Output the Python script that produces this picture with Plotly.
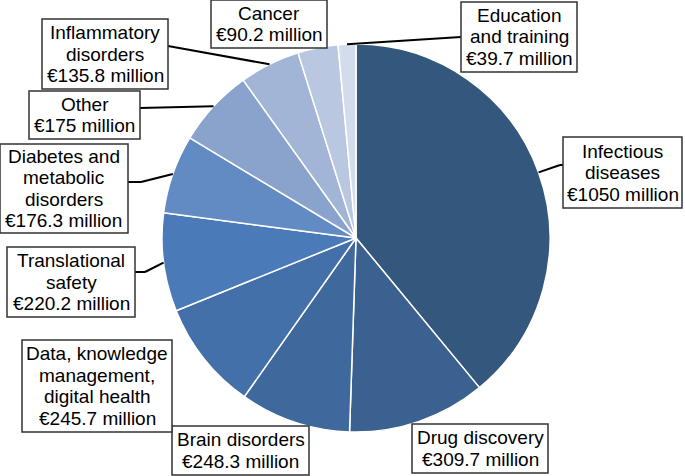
import math
import plotly.graph_objects as go

# ---- data ----
categories = ["Infectious diseases", "Drug discovery", "Brain disorders",
              "Data, knowledge management, digital health", "Translational safety",
              "Diabetes and metabolic disorders", "Other", "Inflammatory disorders",
              "Cancer", "Education and training"]
values = [1050, 309.7, 248.3, 245.7, 220.2, 176.3, 175, 135.8, 90.2, 39.7]
label_texts = ["Infectious<br>diseases<br>€1050 million",
               "Drug discovery<br>€309.7 million",
               "Brain disorders<br>€248.3 million",
               "Data, knowledge<br>management,<br>digital health<br>€245.7 million",
               "Translational<br>safety<br>€220.2 million",
               "Diabetes and<br>metabolic<br>disorders<br>€176.3 million",
               "Other<br>€175 million",
               "Inflammatory<br>disorders<br>€135.8 million",
               "Cancer<br>€90.2 million",
               "Education<br>and training<br>€39.7 million"]
colors = ["#34577E", "#3A6190", "#3F689C", "#4470AA", "#4A7BB8",
          "#628BC3", "#89A3CC", "#A2B5D6", "#B9C7E1", "#D2DCEC"]

W, H = 685, 476
CX, CY, R = 356, 238, 194  # pie geometry in pixels
LINE_H = 21.5
FONT = dict(family="Liberation Sans, Arial", size=19, color="black")

# label boxes (pixels: x0, y0, x1, y1) and connector elbows (None = no connector)
boxes = [(563, 137, 682, 208), (412, 424, 548, 473), (172, 426, 309, 475),
         (22, 340, 172, 432), (7, 247, 135, 317), (0, 144, 128, 233),
         (29, 91, 140, 139), (42, 19, 168, 89), (211, 0, 327, 48),
         (461, 2, 577, 72)]
elbows = [[(560, 165), (563, 165)], None, None, None, [(145, 272), (135, 272)],
          [(141, 182), (128, 182)], [(140, 108)], [(168, 46)], None, [(461, 37)]]


def px(x):
    return x / W


def py(y):
    return 1 - y / H


fig = go.Figure(go.Pie(
    labels=categories, values=values, sort=False, direction="clockwise",
    rotation=0, textinfo="none", hoverinfo="label+value",
    marker=dict(colors=colors, line=dict(color="white", width=1.5)),
    domain=dict(x=[px(CX - R), px(CX + R)], y=[py(CY + R), py(CY - R)]),
    showlegend=False,
))

total = sum(values)
cum = 0
shapes = []
annotations = []
for i, v in enumerate(values):
    mid = (cum + v / 2) / total
    cum += v
    ang = 2 * math.pi * mid
    rx = CX + R * math.sin(ang)
    ry = CY - R * math.cos(ang)
    if elbows[i]:
        pts = [(rx, ry)] + elbows[i]
        for (x0, y0), (x1, y1) in zip(pts[:-1], pts[1:]):
            shapes.append(dict(type="line", xref="paper", yref="paper",
                               x0=px(x0), y0=py(y0), x1=px(x1), y1=py(y1),
                               line=dict(color="black", width=2)))
    bx0, by0, bx1, by1 = boxes[i]
    shapes.append(dict(type="rect", xref="paper", yref="paper",
                       x0=px(bx0), y0=py(by0), x1=px(bx1), y1=py(by1),
                       fillcolor="white", line=dict(color="#333333", width=1.5),
                       layer="above"))
    lines = label_texts[i].split("<br>")
    cy = (by0 + by1) / 2
    n = len(lines)
    for k, t in enumerate(lines):
        ly = cy + (k - (n - 1) / 2) * LINE_H
        annotations.append(dict(
            text=t, xref="paper", yref="paper", x=px((bx0 + bx1) / 2), y=py(ly),
            xanchor="center", yanchor="middle", showarrow=False, font=FONT))

fig.update_layout(width=W, height=H, margin=dict(l=0, r=0, t=0, b=0),
                  paper_bgcolor="white", plot_bgcolor="white",
                  shapes=shapes, annotations=annotations)
fig.write_html("out.html", config={"displayModeBar": False},
               post_script="document.body.style.margin='0';document.body.style.padding='0';")
